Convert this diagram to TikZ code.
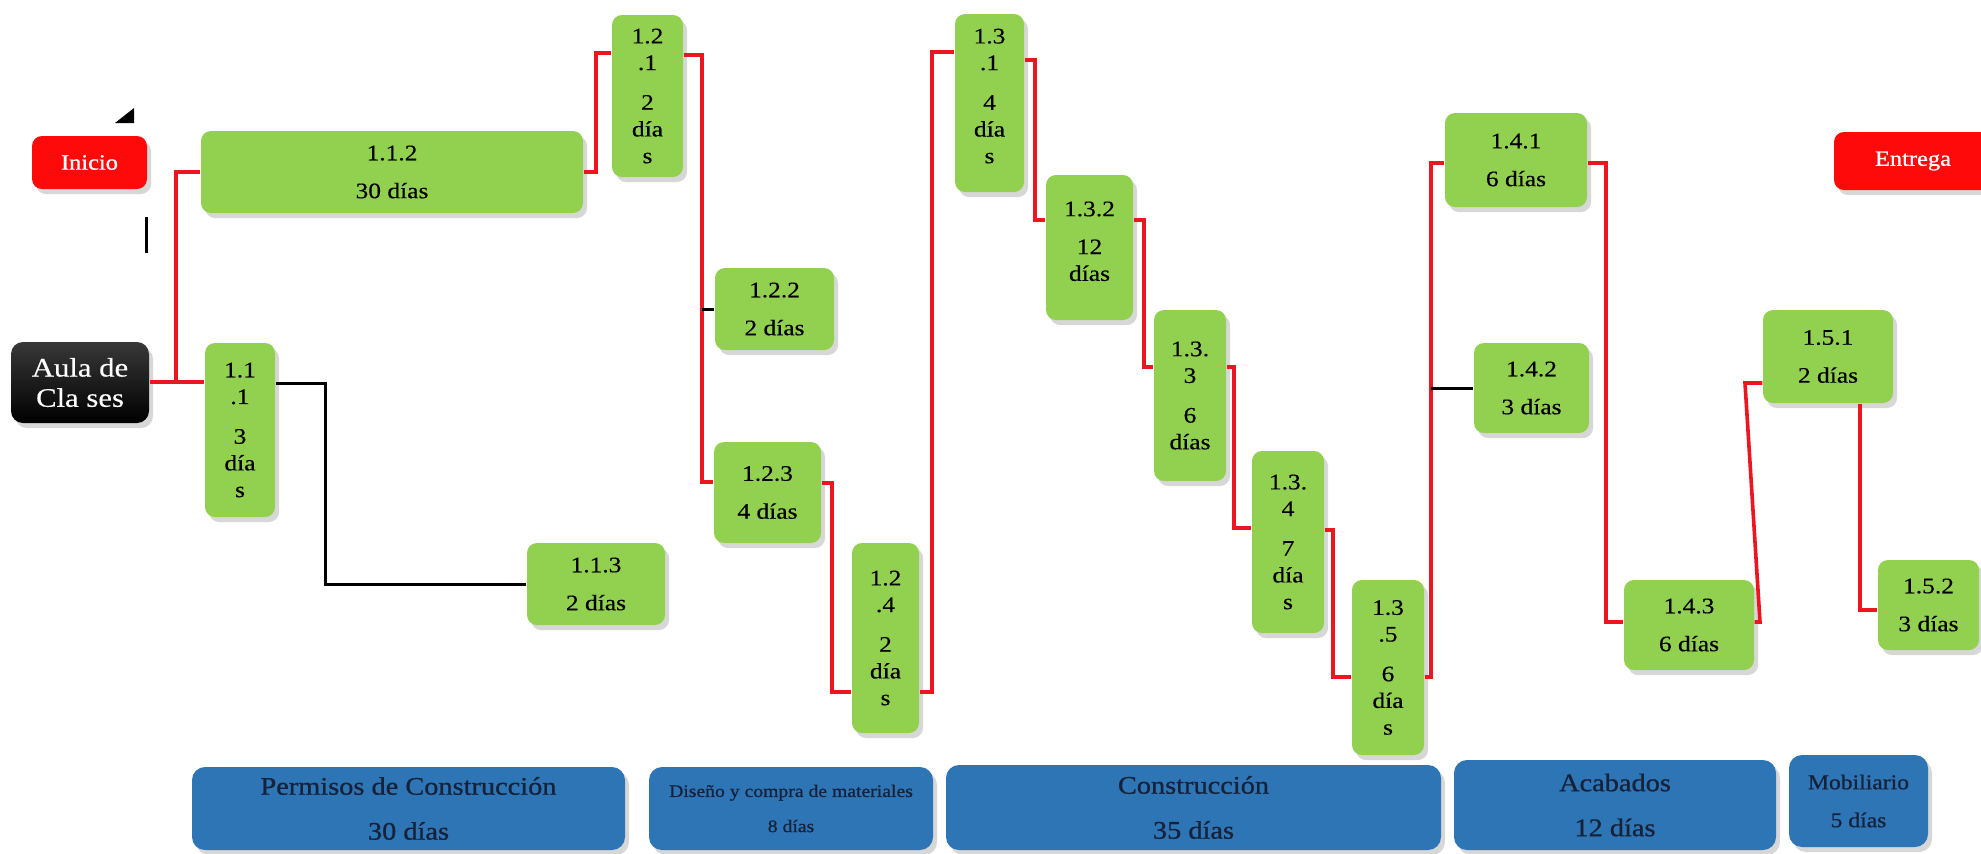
\documentclass[tikz,border=0pt]{standalone}
\usepackage{fontspec}
\setmainfont{Liberation Serif}[FakeStretch=1.15, FakeBold=0.35]
\newfontfamily\heavy{Liberation Serif}[FakeStretch=1.12, FakeBold=0.9]
\usetikzlibrary{shadows}
\definecolor{gfill}{HTML}{92D050}
\definecolor{bfill}{HTML}{2E75B6}
\definecolor{navy}{HTML}{16223A}
\definecolor{lred}{HTML}{EC1520}
\definecolor{rfill}{HTML}{FF0A0A}
\newcommand\mybox[7]{\node[#1, minimum width={(#5-#3)*0.1mm}, minimum height={(#6-#4)*0.1mm}] (#2) at ({(#3+#5)/2},{(#4+#6)/2}) {#7};}
\tikzset{
  shad/.style={drop shadow={shadow xshift=0.4mm, shadow yshift=-0.5mm, opacity=0.22, fill=black!70}},
  gbox/.style={shad, fill=gfill, rounded corners=1mm, inner sep=0pt, align=center, text=black, font=\fontsize{6.3}{7.6}\selectfont},
  bbox/.style={shad, fill=bfill, rounded corners=1.3mm, inner sep=0pt, align=center, text=navy, font=\heavy\fontsize{7.2}{8.6}\selectfont},
  rbox/.style={shad, fill=rfill, rounded corners=1mm, inner sep=0pt, align=center, text=white, font=\heavy\fontsize{6.2}{7.4}\selectfont},
  kbox/.style={shad, top color=black!78, bottom color=black, rounded corners=1.2mm, inner sep=0pt, align=center, text=white, font=\fontsize{7.6}{8.6}\selectfont},
  rl/.style={draw=lred, line width=0.36mm},
  bl/.style={draw=black, line width=0.3mm}
}
\begin{document}
\begin{tikzpicture}[x=0.1mm, y=-0.1mm]
\useasboundingbox (0,0) rectangle (1981,853);
\fill[white] (0,0) rectangle (1981,853);

% start / end
\mybox{rbox}{inicio}{32}{136}{147}{189}{Inicio}
\mybox{rbox}{entrega}{1834}{132}{1992}{190}{Entrega}
\mybox{kbox}{aula}{11}{342}{149}{423}{Aula de\\Cla ses}

% green tasks
\mybox{gbox}{a111}{205}{343}{275}{517}{1.1\\.1\\[3.7pt]3\\día\\s}
\mybox{gbox}{a112}{201}{131}{583}{213}{1.1.2\\[3.2pt]30 días}
\mybox{gbox}{a113}{527}{543}{665}{625}{1.1.3\\[3.2pt]2 días}
\mybox{gbox}{a121}{612}{15}{683}{177}{1.2\\.1\\[3.7pt]2\\día\\s}
\mybox{gbox}{a122}{715}{268}{834}{350}{1.2.2\\[3.2pt]2 días}
\mybox{gbox}{a123}{714}{442}{821}{543}{1.2.3\\[3.2pt]4 días}
\mybox{gbox}{a124}{852}{543}{919}{733}{1.2\\.4\\[3.7pt]2\\día\\s}
\mybox{gbox}{a131}{955}{14}{1024}{192}{1.3\\.1\\[3.7pt]4\\día\\s\\[-3.6pt]\mbox{}}
\mybox{gbox}{a132}{1046}{175}{1133}{320}{1.3.2\\[3.2pt]12\\días\\[-4pt]\mbox{}}
\mybox{gbox}{a133}{1154}{310}{1226}{481}{1.3.\\3\\[3.7pt]6\\días}
\mybox{gbox}{a134}{1252}{451}{1324}{633}{1.3.\\4\\[3.7pt]7\\día\\s}
\mybox{gbox}{a135}{1352}{580}{1424}{755}{1.3\\.5\\[3.7pt]6\\día\\s}
\mybox{gbox}{a141}{1445}{113}{1587}{207}{1.4.1\\[3.2pt]6 días}
\mybox{gbox}{a142}{1474}{343}{1589}{433}{1.4.2\\[3.2pt]3 días}
\mybox{gbox}{a143}{1624}{580}{1754}{670}{1.4.3\\[3.2pt]6 días}
\mybox{gbox}{a151}{1763}{310}{1893}{403}{1.5.1\\[3.2pt]2 días}
\mybox{gbox}{a152}{1878}{560}{1979}{650}{1.5.2\\[3.2pt]3 días}

% phases
\mybox{bbox}{b1}{192}{767}{625}{850}{Permisos de Construcción\\[4.2pt]30 días}
\mybox{bbox, font=\heavy\fontsize{5}{6}\selectfont}{b2}{649}{767}{933}{850}{Diseño y compra de materiales\\[4pt]8 días}
\mybox{bbox}{b3}{946}{765}{1441}{850}{Construcción\\[4.2pt]35 días}
\mybox{bbox}{b4}{1454}{760}{1776}{850}{Acabados\\[4.2pt]12 días}
\mybox{bbox, font=\heavy\fontsize{6}{7.2}\selectfont}{b5}{1789}{755}{1928}{847}{Mobiliario\\[3.6pt]5 días}

% stray marks
\fill (115,123) -- (134,123) -- (134,108) -- cycle;
\draw[bl] (146,217) -- (146,253);

% connectors
\coordinate (j1) at (176,382);
\draw[rl] (aula.east |- j1) -- (j1 -| a111.west);
\draw[rl] (j1) |- (a112.west);

\coordinate (c1) at (596,53);
\draw[rl] (a112.east) -| (c1) -- (c1 -| a121.west);

\coordinate (c2) at (702,55);
\coordinate (c3) at (702,482);
\draw[rl] (c2 -| a121.east) -- (c2) -- (c3) -- (c3 -| a123.west);
\draw[bl] (a122.west -| c2) -- (a122.west);

\coordinate (c5) at (832,483);
\coordinate (c6) at (832,692);
\draw[rl] (c5 -| a123.east) -- (c5) -- (c6) -- (c6 -| a124.west);

\coordinate (c7) at (932,692);
\coordinate (c8) at (932,52);
\draw[rl] (c7 -| a124.east) -- (c7) -- (c8) -- (c8 -| a131.west);

\coordinate (c9) at (1035,60);
\coordinate (c10) at (1035,220);
\draw[rl] (c9 -| a131.east) -- (c9) -- (c10) -- (c10 -| a132.west);

\coordinate (c11) at (1144,220);
\coordinate (c12) at (1144,367);
\draw[rl] (c11 -| a132.east) -- (c11) -- (c12) -- (c12 -| a133.west);

\coordinate (c13) at (1234,367);
\coordinate (c14) at (1234,528);
\draw[rl] (c13 -| a133.east) -- (c13) -- (c14) -- (c14 -| a134.west);

\coordinate (c15) at (1333,530);
\coordinate (c16) at (1333,677);
\draw[rl] (c15 -| a134.east) -- (c15) -- (c16) -- (c16 -| a135.west);

\coordinate (c17) at (1431,677);
\coordinate (c18) at (1431,163);
\draw[rl] (c17 -| a135.east) -- (c17) -- (c18) -- (c18 -| a141.west);
\draw[bl] (a142.west -| c17) -- (a142.west);

\coordinate (c20) at (1606,163);
\coordinate (c21) at (1606,622);
\draw[rl] (c20 -| a141.east) -- (c20) -- (c21) -- (c21 -| a143.west);

\coordinate (c22) at (1760,622);
\coordinate (c23) at (1745,383);
\draw[rl] (c22 -| a143.east) -- (c22) -- (c23) -- (c23 -| a151.west);

\coordinate (c24) at (1860,610);
\draw[rl] (c24 |- a151.south) -- (c24) -- (c24 -| a152.west);

\coordinate (c25) at (325,383);
\draw[bl] (c25 -| a111.east) -- (c25) |- (a113.west);
\end{tikzpicture}
\end{document}
